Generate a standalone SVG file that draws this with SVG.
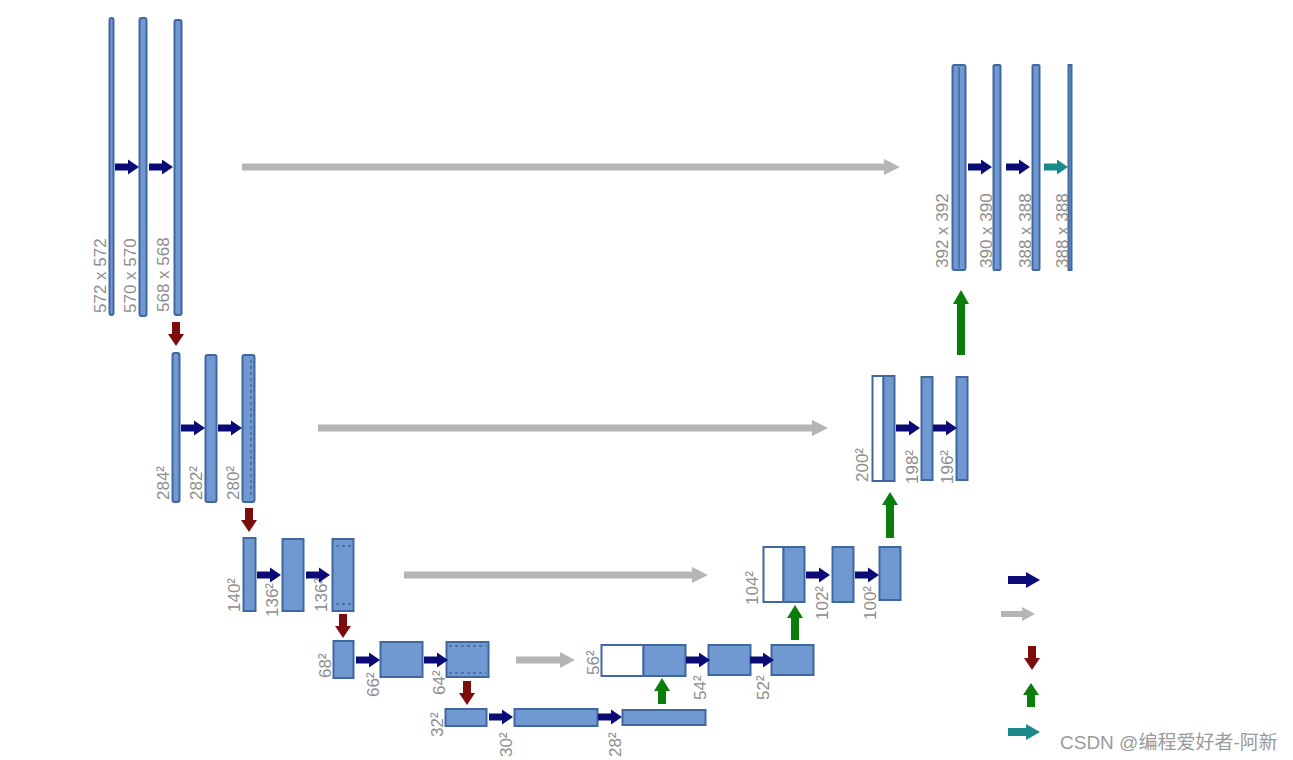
<svg xmlns="http://www.w3.org/2000/svg" xmlns:xlink="http://www.w3.org/1999/xlink" width="1293" height="760" viewBox="0 0 1293 760">
<style>
.bar{fill:#7099d2;stroke:#41679f;stroke-width:2}
.wbox{fill:#ffffff;stroke:#41679f;stroke-width:2}
.dash{fill:none;stroke:#41679f;stroke-width:1.5;stroke-dasharray:3 3}
.lbl{font-family:"Liberation Sans",Arial,sans-serif;font-size:17px;fill:#8e8e8e}
.nav{fill:#0b0b78}
.gry{fill:#b5b5b5}
.red{fill:#7d0c0c}
.grn{fill:#0b7d0b}
.teal{fill:#1b8a88}
.wm{font-family:"Liberation Sans","Noto Sans CJK SC",sans-serif;font-size:19px;fill:#9a9a9a}
</style>
<defs>
<path id="na" d="M0,-3.5 H13 V-7.5 L24,0 L13,7.5 V3.5 H0 Z"/>
<path id="ra" d="M-4,0 V12 H-8 L0,24 L8,12 H4 V0 Z"/>
</defs>
<rect width="1293" height="760" fill="#ffffff"/>

<g id="level1-left">
<rect id="b572" class="bar" x="109.5" y="18" width="4" height="297" rx="2"/>
<rect id="b570" class="bar" x="139.5" y="18" width="7" height="298" rx="2"/>
<rect id="b568" class="bar" x="174.5" y="20" width="7" height="295" rx="2"/>
<text class="lbl" transform="translate(106,313) rotate(-90)">572 x 572</text>
<text class="lbl" transform="translate(136,313) rotate(-90)">570 x 570</text>
<text class="lbl" transform="translate(169,312) rotate(-90)">568 x 568</text>
</g>

<g id="level2-left">
<rect class="bar" x="172.5" y="353" width="7" height="149" rx="2"/>
<rect class="bar" x="205.5" y="355" width="11" height="147" rx="2"/>
<rect class="bar" x="242.5" y="355" width="12" height="147" rx="2"/>
<line class="dash" x1="251" y1="360" x2="251" y2="497"/>
<text class="lbl" transform="translate(169,500) rotate(-90)">284²</text>
<text class="lbl" transform="translate(202,500) rotate(-90)">282²</text>
<text class="lbl" transform="translate(239,500) rotate(-90)">280²</text>
</g>

<g id="level3-left">
<rect class="bar" x="243.5" y="538" width="12" height="73"/>
<rect class="bar" x="282.5" y="539" width="21" height="72"/>
<rect class="bar" x="332.5" y="539" width="21" height="72"/>
<line class="dash" x1="336" y1="546" x2="351" y2="546"/>
<line class="dash" x1="336" y1="604" x2="351" y2="604"/>
<text class="lbl" transform="translate(240,612) rotate(-90)">140²</text>
<text class="lbl" transform="translate(278,617) rotate(-90)">136²</text>
<text class="lbl" transform="translate(327,612) rotate(-90)">136²</text>
</g>

<g id="level4-left">
<rect class="bar" x="333.5" y="641" width="20" height="37"/>
<rect class="bar" x="380.5" y="642" width="42" height="35"/>
<rect class="bar" x="446.5" y="642" width="42" height="35"/>
<line class="dash" x1="449" y1="646" x2="486" y2="646"/>
<line class="dash" x1="449" y1="673" x2="486" y2="673"/>
<text class="lbl" transform="translate(331,678) rotate(-90)">68²</text>
<text class="lbl" transform="translate(379,697) rotate(-90)">66²</text>
<text class="lbl" transform="translate(445,695) rotate(-90)">64²</text>
</g>

<g id="level5">
<rect class="bar" x="445.5" y="709" width="41" height="17"/>
<rect class="bar" x="514.5" y="709" width="83" height="17"/>
<rect class="bar" x="622.5" y="710" width="83" height="15"/>
<text class="lbl" transform="translate(443,737) rotate(-90)">32²</text>
<text class="lbl" transform="translate(512,757) rotate(-90)">30²</text>
<text class="lbl" transform="translate(621,757) rotate(-90)">28²</text>
</g>

<g id="level4-right">
<rect class="wbox" x="601.5" y="645" width="42" height="31"/>
<rect class="bar" x="643.5" y="645" width="42" height="31"/>
<rect class="bar" x="708.5" y="645" width="42" height="30"/>
<rect class="bar" x="771.5" y="645" width="42" height="30"/>
<text class="lbl" transform="translate(599,675) rotate(-90)">56²</text>
<text class="lbl" transform="translate(706,700) rotate(-90)">54²</text>
<text class="lbl" transform="translate(769,700) rotate(-90)">52²</text>
</g>

<g id="level3-right">
<rect class="wbox" x="763.5" y="547" width="20" height="55"/>
<rect class="bar" x="783.5" y="547" width="21" height="55"/>
<rect class="bar" x="832.5" y="547" width="21" height="55"/>
<rect class="bar" x="879.5" y="547" width="21" height="53"/>
<text class="lbl" transform="translate(758,605) rotate(-90)">104²</text>
<text class="lbl" transform="translate(828,620) rotate(-90)">102²</text>
<text class="lbl" transform="translate(876,620) rotate(-90)">100²</text>
</g>

<g id="level2-right">
<rect class="wbox" x="872.5" y="376" width="11" height="105"/>
<rect class="bar" x="883.5" y="376" width="11" height="105"/>
<rect class="bar" x="921.5" y="377" width="11" height="103"/>
<rect class="bar" x="956.5" y="377" width="11" height="103"/>
<text class="lbl" transform="translate(868,482) rotate(-90)">200²</text>
<text class="lbl" transform="translate(918,484) rotate(-90)">198²</text>
<text class="lbl" transform="translate(953,484) rotate(-90)">196²</text>
</g>

<g id="level1-right">
<rect class="bar" x="952.5" y="65" width="13" height="205" rx="2"/>
<line x1="959" y1="67" x2="959" y2="268" stroke="#41679f" stroke-width="1.5"/>
<rect class="bar" x="993.5" y="65" width="7" height="205" rx="1"/>
<rect class="bar" x="1032.5" y="65" width="7" height="205" rx="1"/>
<rect class="bar" x="1068.5" y="65" width="3" height="205"/>
<text class="lbl" transform="translate(948,268) rotate(-90)">392 x 392</text>
<text class="lbl" transform="translate(992,268) rotate(-90)">390 x 390</text>
<text class="lbl" transform="translate(1031,268) rotate(-90)">388 x 388</text>
<text class="lbl" transform="translate(1068,268) rotate(-90)">388 x 388</text>
</g>

<g id="connectors">
<use href="#na" class="nav" x="115" y="167"/>
<use href="#na" class="nav" x="149" y="167"/>
<use href="#na" class="nav" x="181" y="428"/>
<use href="#na" class="nav" x="218" y="428"/>
<use href="#na" class="nav" x="257" y="575"/>
<use href="#na" class="nav" x="306" y="575"/>
<use href="#na" class="nav" x="356" y="660"/>
<use href="#na" class="nav" x="424" y="660"/>
<use href="#na" class="nav" x="489" y="717"/>
<use href="#na" class="nav" x="598" y="717"/>
<use href="#na" class="nav" x="686" y="660"/>
<use href="#na" class="nav" x="750" y="660"/>
<use href="#na" class="nav" x="806" y="575"/>
<use href="#na" class="nav" x="855" y="575"/>
<use href="#na" class="nav" x="896" y="428"/>
<use href="#na" class="nav" x="933" y="428"/>
<use href="#na" class="nav" x="968" y="167"/>
<use href="#na" class="nav" x="1006" y="167"/>
<use href="#na" class="teal" x="1044" y="167"/>
<path class="gry" d="M242,163.5 H884 V159 L900,167 L884,175 V170.5 H242 Z"/>
<path class="gry" d="M318,424.5 H812 V420 L828,428 L812,436 V431.5 H318 Z"/>
<path class="gry" d="M404,571.5 H692 V567 L708,575 L692,583 V578.5 H404 Z"/>
<path class="gry" d="M516,656.5 H560 V652 L575,660 L560,668 V663.5 H516 Z"/>
<use href="#ra" class="red" x="176" y="322"/>
<use href="#ra" class="red" x="249" y="508"/>
<use href="#ra" class="red" x="343" y="614"/>
<use href="#ra" class="red" x="467" y="681"/>
<path class="grn" d="M658,704 V691 H654 L662,678 L670,691 H666 V704 Z"/>
<path class="grn" d="M791,640 V618 H787 L795,605 L803,618 H799 V640 Z"/>
<path class="grn" d="M886,538 V505 H882 L890,492 L898,505 H894 V538 Z"/>
<path class="grn" d="M957,355 V304 H953 L961,290 L969,304 H965 V355 Z"/>
</g>

<g id="legend">
<path class="nav" d="M1008,576 H1026 V572 L1040,580 L1026,588 V584 H1008 Z"/>
<path class="gry" d="M1001,611 H1022 V607 L1035,614 L1022,621 V617 H1001 Z"/>
<use href="#ra" class="red" x="1032" y="646"/>
<path class="grn" d="M1027,707 V695 H1023 L1031,683 L1039,695 H1035 V707 Z"/>
<path class="teal" d="M1008,728 H1026 V724 L1040,732 L1026,740 V736 H1008 Z"/>
</g>

<text class="wm" x="1060" y="749">CSDN @编程爱好者-阿新</text>
</svg>
